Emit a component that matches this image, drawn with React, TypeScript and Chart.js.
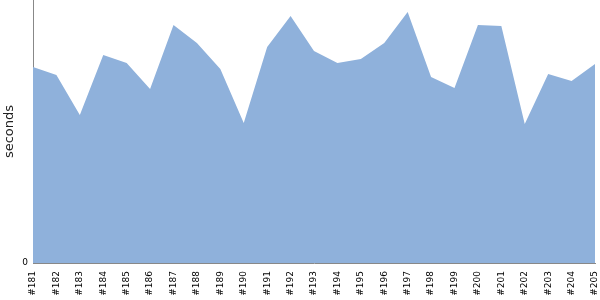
import React, { useEffect, useRef } from "react";
import { Chart, registerables } from "chart.js";

Chart.register(...registerables);

const builds = [
  "#181", "#182", "#183", "#184", "#185", "#186", "#187", "#188", "#189", "#190",
  "#191", "#192", "#193", "#194", "#195", "#196", "#197", "#198", "#199", "#200",
  "#201", "#202", "#203", "#204", "#205",
];
const seconds = [
  196, 188, 148, 208, 200, 174, 238, 220, 194, 140,
  216, 247, 212, 200, 204, 220, 251, 186, 175, 238,
  237, 139, 189, 182, 199,
];
const yMin = 0;
const yMax = 263;
const yTicks = [0];

export default function App() {
  const ref = useRef<HTMLCanvasElement | null>(null);
  useEffect(() => {
    document.body.style.margin = "0";
    const ctx = ref.current;
    if (!ctx) return;
    const chart = new Chart(ctx, {
      type: "line",
      data: {
        labels: builds,
        datasets: [
          {
            data: seconds,
            fill: "origin",
            backgroundColor: "#8fb1db",
            borderColor: "#8fb1db",
            borderWidth: 0,
            pointRadius: 0,
            tension: 0,
          },
        ],
      },
      options: {
        animation: false,
        responsive: false,
        maintainAspectRatio: false,
        layout: { padding: 0 },
        plugins: { legend: { display: false }, tooltip: { enabled: false } },
        scales: {
          x: {
            offset: false,
            grid: { display: false, drawTicks: false },
            border: { display: true, color: "#888888" },
            afterFit: (s: any) => {
              s.paddingLeft = 0;
              s.paddingRight = 5;
              s.paddingTop = 0;
              s.paddingBottom = 0;
              s.height = 37;
            },
            ticks: {
              autoSkip: false,
              maxRotation: 90,
              minRotation: 90,
              padding: 8,
              color: "#000000",
              font: { family: "DejaVu Sans", size: 9 },
            },
          },
          y: {
            min: yMin,
            max: yMax,
            grid: { display: false, drawTicks: false },
            border: { display: true, color: "#888888" },
            afterBuildTicks: (axis: any) => {
              axis.ticks = yTicks.map((v) => ({ value: v }));
            },
            afterFit: (s: any) => {
              s.paddingTop = 0;
              s.paddingBottom = 0;
              s.paddingLeft = 0;
              s.paddingRight = 0;
              s.width = 33;
            },
            ticks: {
              padding: 5,
              color: "#000000",
              font: { family: "DejaVu Sans", size: 9 },
            },
            title: {
              display: true,
              text: "seconds",
              color: "#222222",
              font: { family: "DejaVu Sans", size: 13 },
              padding: { top: 2, bottom: 4 },
            },
          },
        },
      },
    });
    return () => chart.destroy();
  }, []);
  return (
    <div style={{ position: "fixed", left: 0, top: 0, width: 600, height: 300 }}>
      <canvas ref={ref} width={600} height={300} style={{ width: 600, height: 300 }} />
    </div>
  );
}
